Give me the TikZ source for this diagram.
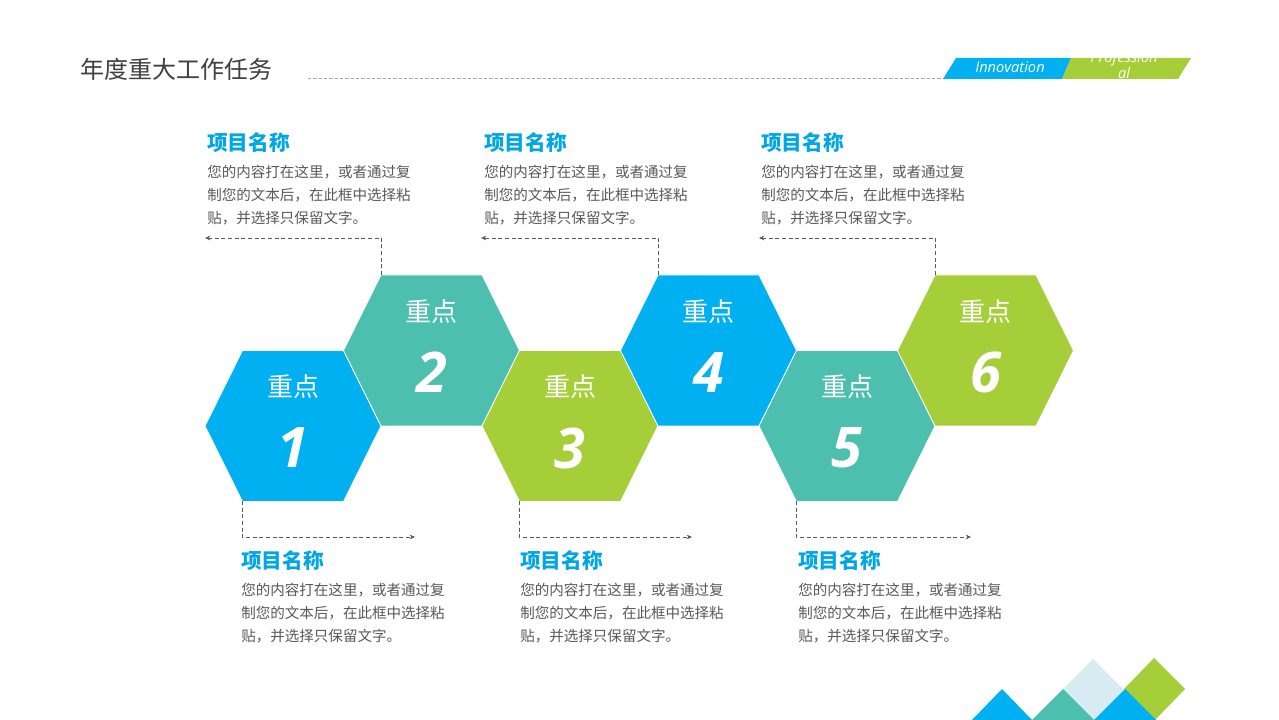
\documentclass[tikz,border=0pt]{standalone}
\usepackage{fontspec}
\setmainfont{Noto Sans CJK SC}
\newfontfamily\digitfont{Open Sans}
\usetikzlibrary{calc,arrows.meta}
\definecolor{cblue}{HTML}{00B0F0}
\definecolor{cteal}{HTML}{4CBFAE}
\definecolor{cgreen}{HTML}{A6CE39}
\definecolor{ltblue}{HTML}{D7ECF2}
\definecolor{bodygray}{HTML}{595959}
\definecolor{titlegray}{HTML}{404040}
\definecolor{titleblue}{HTML}{00A6E6}
\definecolor{dashgray}{HTML}{5A5A5A}
\tikzset{
  hexa/.style={draw=white, line width=0.6pt},
  hextop/.style={text=white, font=\fontsize{19.5}{20}\selectfont, inner sep=0pt},
  hexnum/.style={text=white, font=\digitfont\bfseries\itshape\fontsize{42}{42}\selectfont, inner sep=0pt},
  itemtitle/.style={text=titleblue, font=\bfseries\fontsize{15.5}{16}\selectfont, inner sep=0pt, anchor=west},
  itembody/.style={text=bodygray, font=\fontsize{10.9}{12}\selectfont, inner sep=0pt, anchor=west},
  conn/.style={draw=dashgray, line width=0.7pt, dash pattern=on 3pt off 2pt, -{Stealth[length=4pt,width=3.5pt]}},
}
% hexagon: half width 88, half height 75.5, half top edge 50.5 (px)
\newcommand\hexat[4]{%
  \coordinate (#1) at (#2);
  \path[hexa, fill=#3] ($(#1)+(-88,0)$) -- ($(#1)+(-50.5,-75.5)$) -- ($(#1)+(50.5,-75.5)$)
     -- ($(#1)+(88,0)$) -- ($(#1)+(50.5,75.5)$) -- ($(#1)+(-50.5,75.5)$) -- cycle;
  \node[hextop] (#1k) at ($(#1)+(0,-39)$) {重点};
  \node[hexnum] (#1n) at ($(#1)+(0,22)$) {#4};
}
\newcommand\infoblock[3]{%
  \node[itemtitle] (#1t) at (#2,#3) {项目名称};
  \node[itembody] (#1a) at (#2,#3+29) {您的内容打在这里，或者通过复};
  \node[itembody] (#1b) at (#2,#3+52) {制您的文本后，在此框中选择粘};
  \node[itembody] (#1c) at (#2,#3+75) {贴，并选择只保留文字。};
}
\begin{document}
\begin{tikzpicture}[x=0.75pt,y=-0.75pt]
\useasboundingbox[fill=white] (0,0) rectangle (1279,720);
% header
\node[anchor=west, inner sep=0pt, text=titlegray, font=\fontsize{18}{18}\selectfont] (title) at (80,69) {年度重大工作任务};
\coordinate (hl1) at (308,78);
\coordinate (hl2) at (943,78);
\draw[draw=gray!70, line width=0.6pt, dash pattern=on 2.5pt off 1.5pt] (hl1) -- (hl2);
\fill[cblue] (943,79) -- (956,58) -- (1071,58) -- (1062,79) -- cycle;
\fill[cgreen] (1062,79) -- (1071,58) -- (1191,58) -- (1178,79) -- cycle;
\node[text=white, inner sep=0pt, font=\digitfont\itshape\fontsize{11}{11}\selectfont] (inno) at (1010,67) {Innovation};
\node[text=white, inner sep=0pt, align=center, font=\digitfont\itshape\fontsize{11}{12.5}\selectfont] (prof) at (1124,65) {Profession\\al};
% hexagons
\hexat{h1}{293,426}{cblue}{1}
\hexat{h2}{431.5,350.5}{cteal}{2}
\hexat{h3}{570,426}{cgreen}{3}
\hexat{h4}{708.5,350.5}{cblue}{4}
\hexat{h5}{847,426}{cteal}{5}
\hexat{h6}{985.5,350.5}{cgreen}{6}
% text blocks
\infoblock{ta}{207}{143}
\infoblock{tb}{484}{143}
\infoblock{tc}{761}{143}
\infoblock{ba}{241}{561}
\infoblock{bb}{520}{561}
\infoblock{bc}{798}{561}
% connectors
\coordinate (e1) at (205,238);
\coordinate (e2) at (481,238);
\coordinate (e3) at (759,238);
\coordinate (f1) at (415,537);
\coordinate (f2) at (692,537);
\coordinate (f3) at (971,537);
\draw[conn] ($(h2)+(-50,-75.5)$) |- (e1);
\draw[conn] ($(h4)+(-50,-75.5)$) |- (e2);
\draw[conn] ($(h6)+(-50,-75.5)$) |- (e3);
\draw[conn] ($(h1)+(-51,75)$) |- (f1);
\draw[conn] ($(h3)+(-51,75)$) |- (f2);
\draw[conn] ($(h5)+(-51,75)$) |- (f3);
% corner decoration
\fill[ltblue] (1093,659) -- (1032,720) -- (1154,720) -- cycle;
\fill[cgreen] (1154,658) -- (1185,689) -- (1155,720) -- (1124,689) -- cycle;
\fill[cblue] (1002,689) -- (972,720) -- (1032,720) -- cycle;
\fill[cteal] (1063,689) -- (1032,720) -- (1094,720) -- cycle;
\fill[cblue] (1125,689) -- (1094,720) -- (1156,720) -- cycle;
\end{tikzpicture}
\end{document}
